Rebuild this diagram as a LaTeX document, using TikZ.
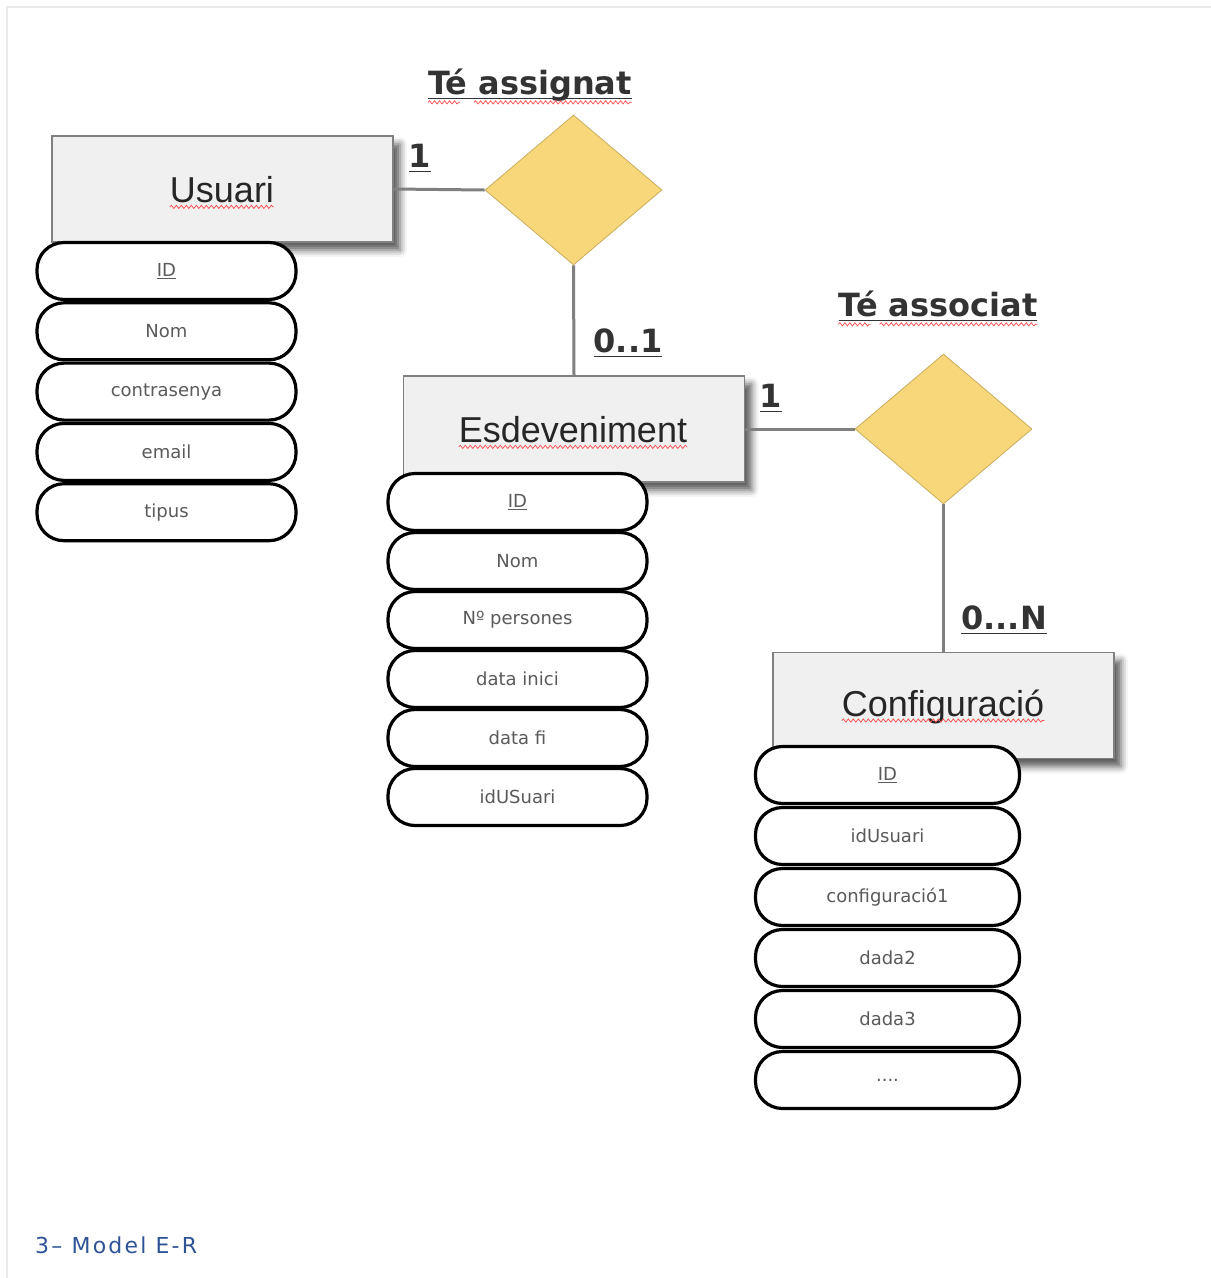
\documentclass[tikz,border=0pt]{standalone}
\usepackage{fontspec}
\setmainfont{DejaVu Sans}
\newfontfamily\entfont{Liberation Sans}
\newfontfamily\capfont[LetterSpace=10]{DejaVu Sans}
\usetikzlibrary{shapes.geometric,shadows.blur,decorations.pathmorphing}
\definecolor{entfill}{HTML}{F0F0F0}
\definecolor{entline}{HTML}{808080}
\definecolor{relfill}{HTML}{F8D77A}
\definecolor{relline}{HTML}{C9AD5E}
\definecolor{attrtxt}{HTML}{5A5A5A}
\definecolor{labtxt}{HTML}{333333}
\definecolor{captxt}{HTML}{2F5496}
% underline of chosen depth and thickness
\newcommand\undl[3]{\setbox0\hbox{#3}\rlap{\rule[-#1]{\wd0}{#2}}\box0}
\newcommand\moredots{....}
\tikzset{entity/.style={
    rectangle, draw=entline, fill=entfill, line width=1.2pt,
    minimum width=341pt, minimum height=106pt,
    blur shadow={shadow xshift=7pt, shadow yshift=-8pt,
      shadow blur radius=7pt, shadow opacity=65}
  },
  enttext/.style={font=\entfont\fontsize{36}{40}\selectfont, text=black!85, inner sep=0pt},
  attr/.style={
    rectangle, rounded corners=27pt, draw=black, fill=white, line width=3.2pt,
    minimum width=259pt, minimum height=57pt,
    font=\fontsize{18}{20}\selectfont, text=attrtxt
  },
  rel/.style={
    diamond, draw=relline, fill=relfill, line width=0.8pt,
    minimum width=177pt, minimum height=150pt, inner sep=0pt
  },
  link/.style={draw=entline, line width=3pt},
  card/.style={font=\bfseries\fontsize{32}{36}\selectfont, text=labtxt, inner sep=0pt},
  squiggle/.style={draw=red!70, line width=0.7pt,
    decorate, decoration={snake, amplitude=1.6pt, segment length=5pt}}
}
\begin{document}
\begin{tikzpicture}[x=1pt,y=-1pt]
  \useasboundingbox (0,0) rectangle (1211,1278);
  \draw[black!8, line width=1.5pt] (7,1278) -- (7,7) -- (1211,7);

  % entities
  \node[entity] (usuari) at (222.5,189) {};
  \node[entity] (esdev) at (574,429) {};
  \node[entity] (config) at (943.5,705.5) {};
  \node[enttext] (usuari-t) at (222,190) {Usuari};
  \node[enttext] (esdev-t) at (573,430) {Esdeveniment};
  \node[enttext] (config-t) at (943,707) {Configuració};

  % relations
  \node[rel] (assig) at (573.5,190) {};
  \node[rel] (assoc) at (943.5,429) {};
  \draw[link] (usuari.east) -- (assig.west);
  \draw[link] (assig.south) -- (esdev.north);
  \draw[link] (esdev.east) -- (assoc.west);
  \draw[link] (assoc.south) -- (config.north);

  % attributes
  \node[attr] (u0) at (166.5,271) {\undl{3pt}{0.9pt}{ID}};
  \foreach \txt [count=\i] in {Nom,contrasenya,email,tipus}
    \node[attr] (u\i) at (166.5,{271+60.3*\i}) {\txt};
  \node[attr] (e0) at (517.5,502) {\undl{3pt}{0.9pt}{ID}};
  \foreach \txt [count=\i] in {Nom,Nº persones,data inici,data fi,idUSuari}
    \node[attr] (e\i) at (517.5,{502+59*\i}) {\txt};
  \begin{scope}[attr/.append style={minimum width=264pt}]
    \node[attr] (c0) at (887.5,775) {\undl{3pt}{0.9pt}{ID}};
    \foreach \txt [count=\i] in {idUsuari,configuració1,dada2,dada3,\moredots}
      \node[attr] (c\i) at (887.5,{775+61*\i}) {\txt};
  \end{scope}

  % labels
  \node[card] (t-assig) at (530,85) {\undl{5pt}{1.6pt}{Té assignat}};
  \node[card] (t-assoc) at (938,306) {\undl{5pt}{1.6pt}{Té associat}};
  \node[card] (k1) at (420,158) {\undl{5pt}{1.6pt}{1}};
  \node[card] (k2) at (628,343) {\undl{5pt}{1.6pt}{0..1}};
  \node[card] (k3) at (771,398) {\undl{5pt}{1.6pt}{1}};
  \node[card] (k4) at (1004,620) {\undl{5pt}{1.6pt}{0...N}};

  % spelling marks
  \foreach \n in {usuari-t,esdev-t,config-t}
    \draw[squiggle] ([yshift=-4pt]\n.base west) -- ([yshift=-4pt]\n.base east);
  \draw[squiggle] ([yshift=-8pt]t-assig.base west) -- ++(32,0);
  \draw[squiggle] ([yshift=-8pt,xshift=-158pt]t-assig.base east) -- ([yshift=-8pt]t-assig.base east);
  \draw[squiggle] ([yshift=-8pt]t-assoc.base west) -- ++(32,0);
  \draw[squiggle] ([yshift=-8pt,xshift=-158pt]t-assoc.base east) -- ([yshift=-8pt]t-assoc.base east);

  % caption
  \node[anchor=base west, inner sep=0pt, text=captxt,
    font=\capfont\fontsize{22}{24}\selectfont] (caption) at (35,1253) {3– Model E-R};
\end{tikzpicture}
\end{document}
